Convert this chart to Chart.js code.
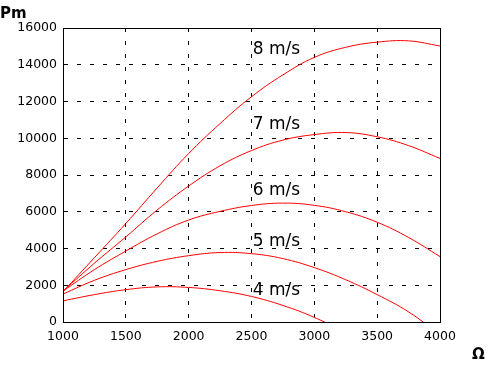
<!DOCTYPE html>
<html>
<head>
<meta charset="utf-8">
<script src="https://cdn.jsdelivr.net/npm/chart.js@4"></script>
<style>
  html, body { margin: 0; padding: 0; background: #fff; }
  #wrap { position: relative; width: 489px; height: 365px; }
</style>
</head>
<body>
<div id="wrap"><canvas id="pm-chart" width="489" height="365"></canvas></div>
<script>
// rotor speed (x) and power curves per wind speed
const omega = [1000, 1250, 1500, 1750, 2000, 2250, 2500, 2750, 3000, 3250, 3500, 3750, 4000];
const pm4 = [1150, 1490, 1760, 1910, 1880, 1700, 1390, 900, 250, -600, -1600, -2800, -4100];
const pm5 = [1520, 2270, 2850, 3300, 3610, 3780, 3720, 3450, 2960, 2300, 1490, 550, -700];
const pm6 = [1680, 2850, 3860, 4800, 5550, 6020, 6340, 6470, 6350, 6000, 5430, 4600, 3560];
const pm7 = [1680, 3200, 4630, 6100, 7400, 8500, 9330, 9900, 10200, 10310, 10080, 9600, 8900];
const pm8 = [1650, 3500, 5360, 7300, 9170, 10800, 12260, 13450, 14400, 14950, 15230, 15300, 15020];
const speedLabels = ["4 m/s", "5 m/s", "6 m/s", "7 m/s", "8 m/s"];
const xTicks = [1000, 1500, 2000, 2500, 3000, 3500, 4000];
const yTicks = [0, 2000, 4000, 6000, 8000, 10000, 12000, 14000, 16000];

// where the speed names sit, in data units
const labelX = 2510;
const labelY = [1720, 4390, 7170, 10760, 14800];

const FONT = "'DejaVu Sans', sans-serif";

const toPoints = arr => arr.map((v, i) => ({x: omega[i], y: v}));

const series = [pm4, pm5, pm6, pm7, pm8];
const datasets = series.map((s, i) => ({
    label: speedLabels[i],
    data: toPoints(s),
    borderColor: "#ff0000",
    borderWidth: 1,
    pointRadius: 0,
    fill: false,
    tension: 0.4,
}));

// frame around plot + text annotations
const extras = {
    id: "extras",
    afterDatasetsDraw(chart) {
        const {ctx, chartArea: a, scales} = chart;
        ctx.save();
        ctx.strokeStyle = "#000";
        ctx.lineWidth = 1;
        ctx.strokeRect(Math.round(a.left) + 0.5, Math.round(a.top) + 0.5,
            Math.round(a.right - a.left), Math.round(a.bottom - a.top));

        ctx.fillStyle = "#000";
        ctx.font = "17px " + FONT;
        ctx.textAlign = "left";
        ctx.textBaseline = "middle";
        speedLabels.forEach((t, i) => {
            ctx.fillText(t, scales.x.getPixelForValue(labelX), scales.y.getPixelForValue(labelY[i]));
        });

        ctx.font = "bold 15px " + FONT;
        ctx.textBaseline = "alphabetic";
        ctx.fillText("Pm", 0, 18);
        ctx.fillText("\u03A9", 472, 359);
        ctx.restore();
    }
};

new Chart(document.getElementById("pm-chart"), {
    type: "line",
    data: { datasets },
    options: {
        responsive: false,
        animation: false,
        layout: { padding: { left: 0, right: 49, top: 28, bottom: 0 } },
        plugins: { legend: {display: false}, tooltip: {enabled: false} },
        scales: {
            x: {
                type: "linear",
                min: 1000, max: 4000,
                afterBuildTicks: s => { s.ticks = xTicks.map(v => ({value: v})); },
                afterFit: s => { s.height = 43; },
                grid: { color: "#000", lineWidth: 1, drawTicks: false },
                border: { color: "#000", dash: [4, 9] },
                ticks: { color: "#000", padding: 7, maxRotation: 0, font: {family: FONT, size: 12.5},
                         callback: v => String(v) },
            },
            y: {
                min: 0, max: 16000,
                afterBuildTicks: s => { s.ticks = yTicks.map(v => ({value: v})); },
                afterFit: s => { s.width = 63; },
                grid: { color: "#000", lineWidth: 1, drawTicks: false },
                border: { color: "#000", dash: [4, 9] },
                ticks: { color: "#000", padding: 6, font: {family: FONT, size: 12.5},
                         callback: v => String(v) },
            }
        }
    },
    plugins: [extras]
});
</script>
</body>
</html>
